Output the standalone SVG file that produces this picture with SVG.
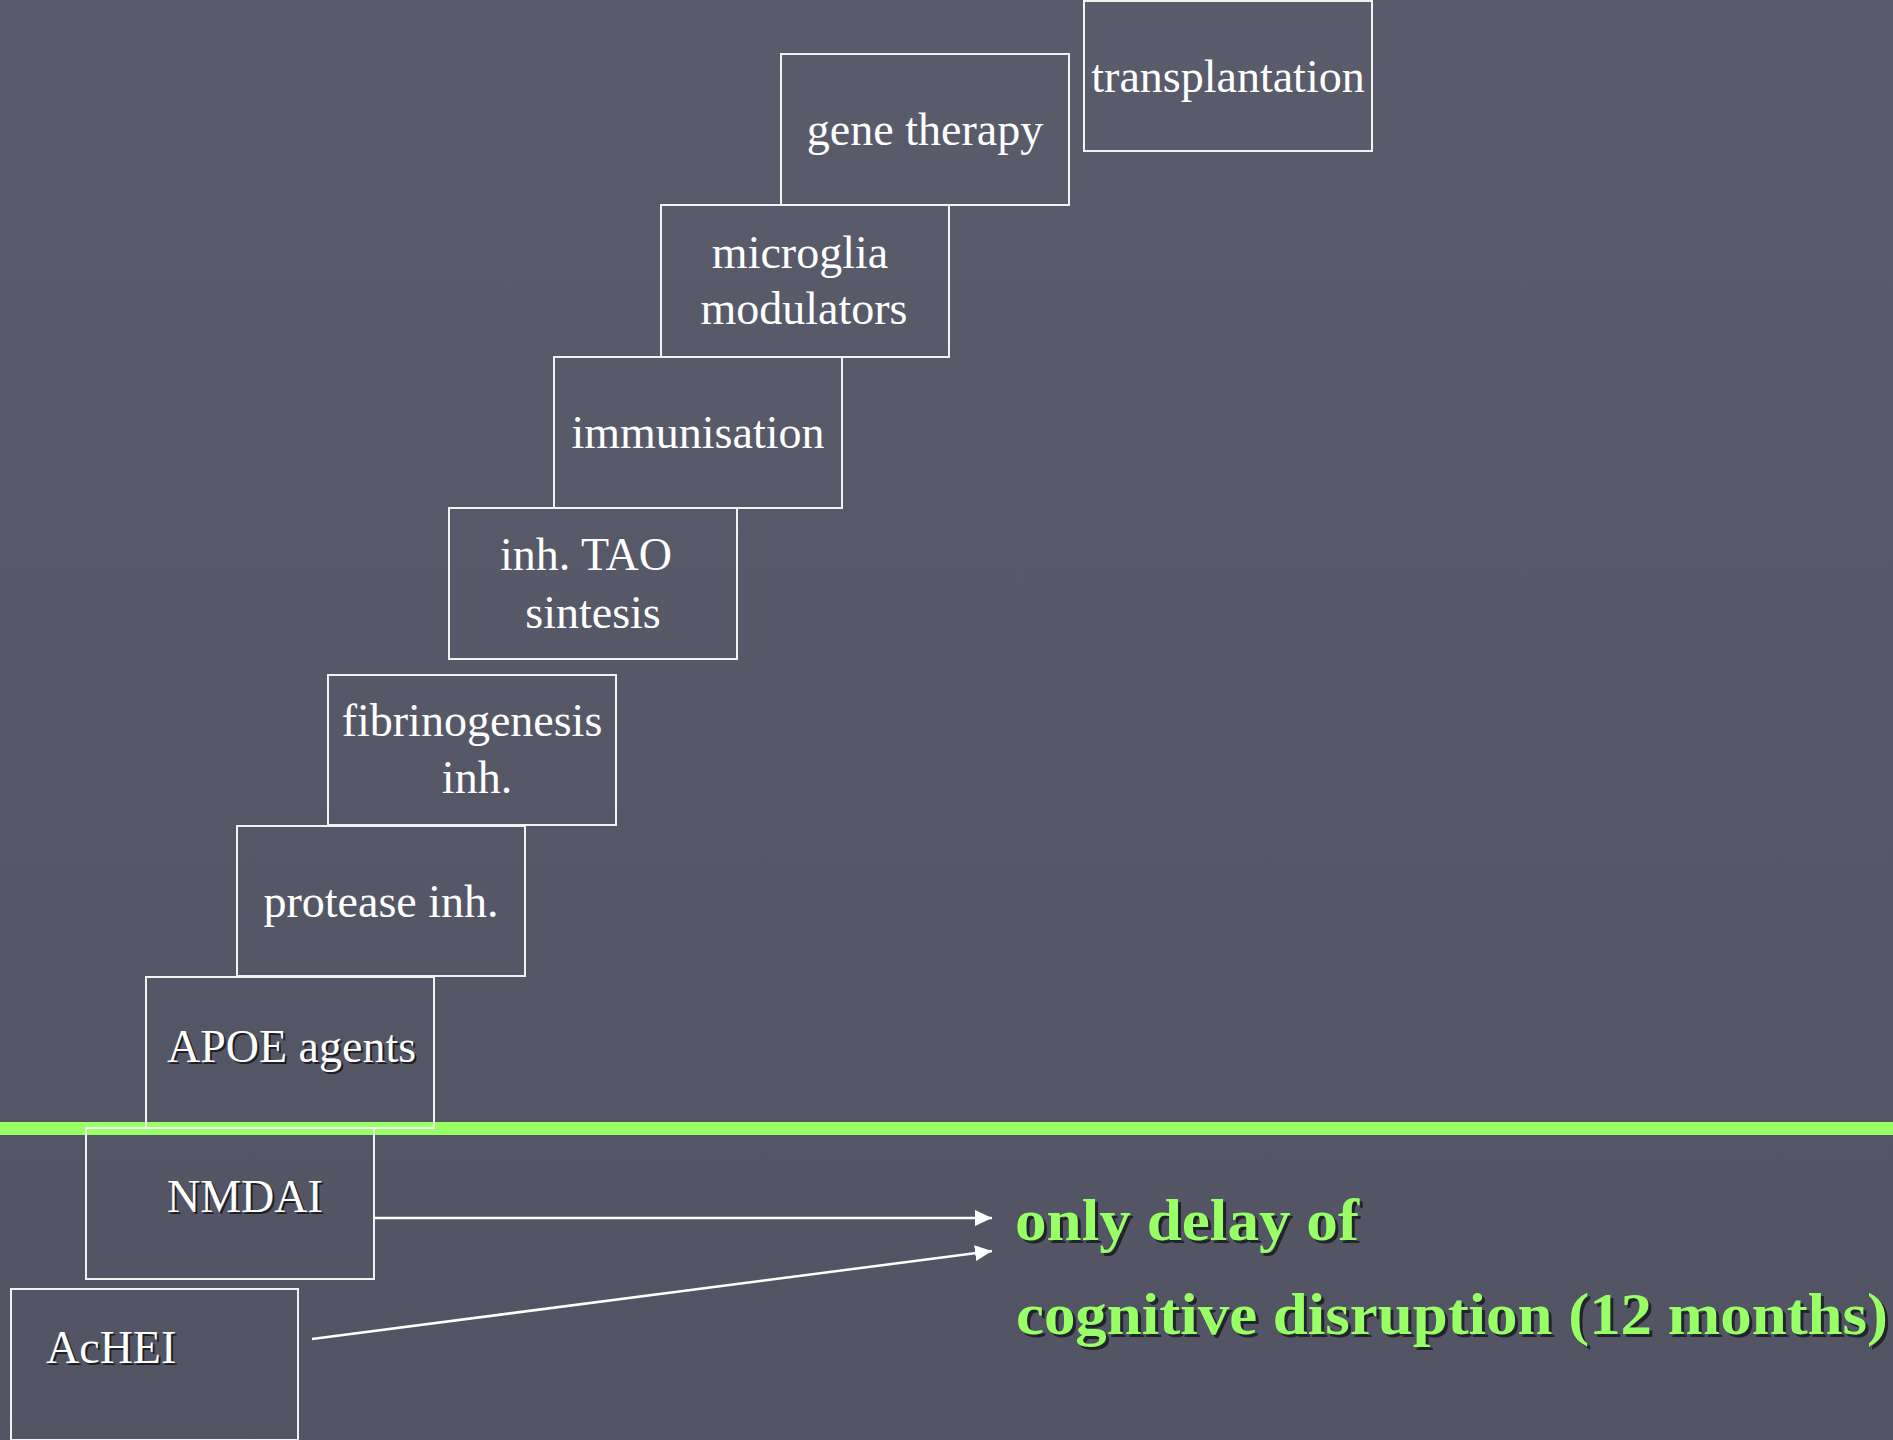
<svg xmlns="http://www.w3.org/2000/svg" width="1893" height="1440" viewBox="0 0 1893 1440">
<defs>
<linearGradient id="bg" x1="0" y1="0" x2="0" y2="1">
<stop offset="0" stop-color="#5a5c6c"/>
<stop offset="1" stop-color="#525463"/>
</linearGradient>
<marker id="arr" markerUnits="userSpaceOnUse" markerWidth="20" markerHeight="18" refX="17" refY="8" orient="auto">
<path d="M0,0 L17,8 L0,16 Z" fill="#ffffff"/>
</marker>
<style>
.box{fill:none;stroke:#f2f2f2;stroke-width:2}
.lbl{font-family:"Liberation Serif","Times New Roman",serif;font-size:46px;fill:#ffffff}
.mid{text-anchor:middle}
.sh{fill:#1e1e24}
.grn{font-family:"Liberation Serif","Times New Roman",serif;font-size:60px;font-weight:bold;fill:#99ff66}
.gsh{font-family:"Liberation Serif","Times New Roman",serif;font-size:60px;font-weight:bold;fill:#23242b}
.conn{stroke:#ffffff;stroke-width:2.5;fill:none}
</style>
</defs>
<rect x="0" y="0" width="1893" height="1440" fill="url(#bg)"/>
<rect x="0" y="1122" width="1893" height="13" fill="#99ff66"/>

<g id="n-transplantation">
<rect class="box" x="1084" y="1" width="288" height="150"/>
<text class="lbl mid" x="1228" y="92">transplantation</text>
</g>
<g id="n-gene-therapy">
<rect class="box" x="781" y="54" width="288" height="151"/>
<text class="lbl mid" x="925" y="145">gene therapy</text>
</g>
<g id="n-microglia">
<rect class="box" x="661" y="205" width="288" height="152"/>
<text class="lbl mid" x="800" y="268">microglia</text>
<text class="lbl mid" x="804" y="324">modulators</text>
</g>
<g id="n-immunisation">
<rect class="box" x="554" y="357" width="288" height="151"/>
<text class="lbl mid" x="698" y="448">immunisation</text>
</g>
<g id="n-tao">
<rect class="box" x="449" y="508" width="288" height="151"/>
<text class="lbl mid" x="586" y="570">inh. TAO</text>
<text class="lbl mid" x="593" y="628">sintesis</text>
</g>
<g id="n-fibrinogenesis">
<rect class="box" x="328" y="675" width="288" height="150"/>
<text class="lbl mid" x="472" y="736">fibrinogenesis</text>
<text class="lbl mid" x="477" y="793">inh.</text>
</g>
<g id="n-protease">
<rect class="box" x="237" y="826" width="288" height="150"/>
<text class="lbl mid" x="381" y="917">protease inh.</text>
</g>
<g id="n-apoe">
<rect class="box" x="146" y="977" width="288" height="151"/>
<text class="lbl sh" x="169" y="1064">APOE agents</text>
<text class="lbl" x="167" y="1062">APOE agents</text>
</g>
<g id="n-nmdai">
<rect class="box" x="86" y="1128" width="288" height="151"/>
<text class="lbl sh" x="169" y="1214">NMDAI</text>
<text class="lbl" x="167" y="1212">NMDAI</text>
</g>
<g id="n-achei">
<rect class="box" x="11" y="1289" width="287" height="151"/>
<text class="lbl sh" x="48" y="1365">AcHEI</text>
<text class="lbl" x="46" y="1363">AcHEI</text>
</g>

<g id="connectors">
<line class="conn" x1="374" y1="1218" x2="992" y2="1218" marker-end="url(#arr)"/>
<line class="conn" x1="312" y1="1339" x2="992" y2="1251" marker-end="url(#arr)"/>
</g>

<g id="n-result">
<text class="gsh" x="1018" y="1243" textLength="344" lengthAdjust="spacingAndGlyphs">only delay of</text>
<text class="grn" x="1015" y="1240" textLength="344" lengthAdjust="spacingAndGlyphs">only delay of</text>
<text class="gsh" x="1019" y="1337" textLength="872" lengthAdjust="spacingAndGlyphs">cognitive disruption (12 months)</text>
<text class="grn" x="1016" y="1334" textLength="872" lengthAdjust="spacingAndGlyphs">cognitive disruption (12 months)</text>
</g>
</svg>
